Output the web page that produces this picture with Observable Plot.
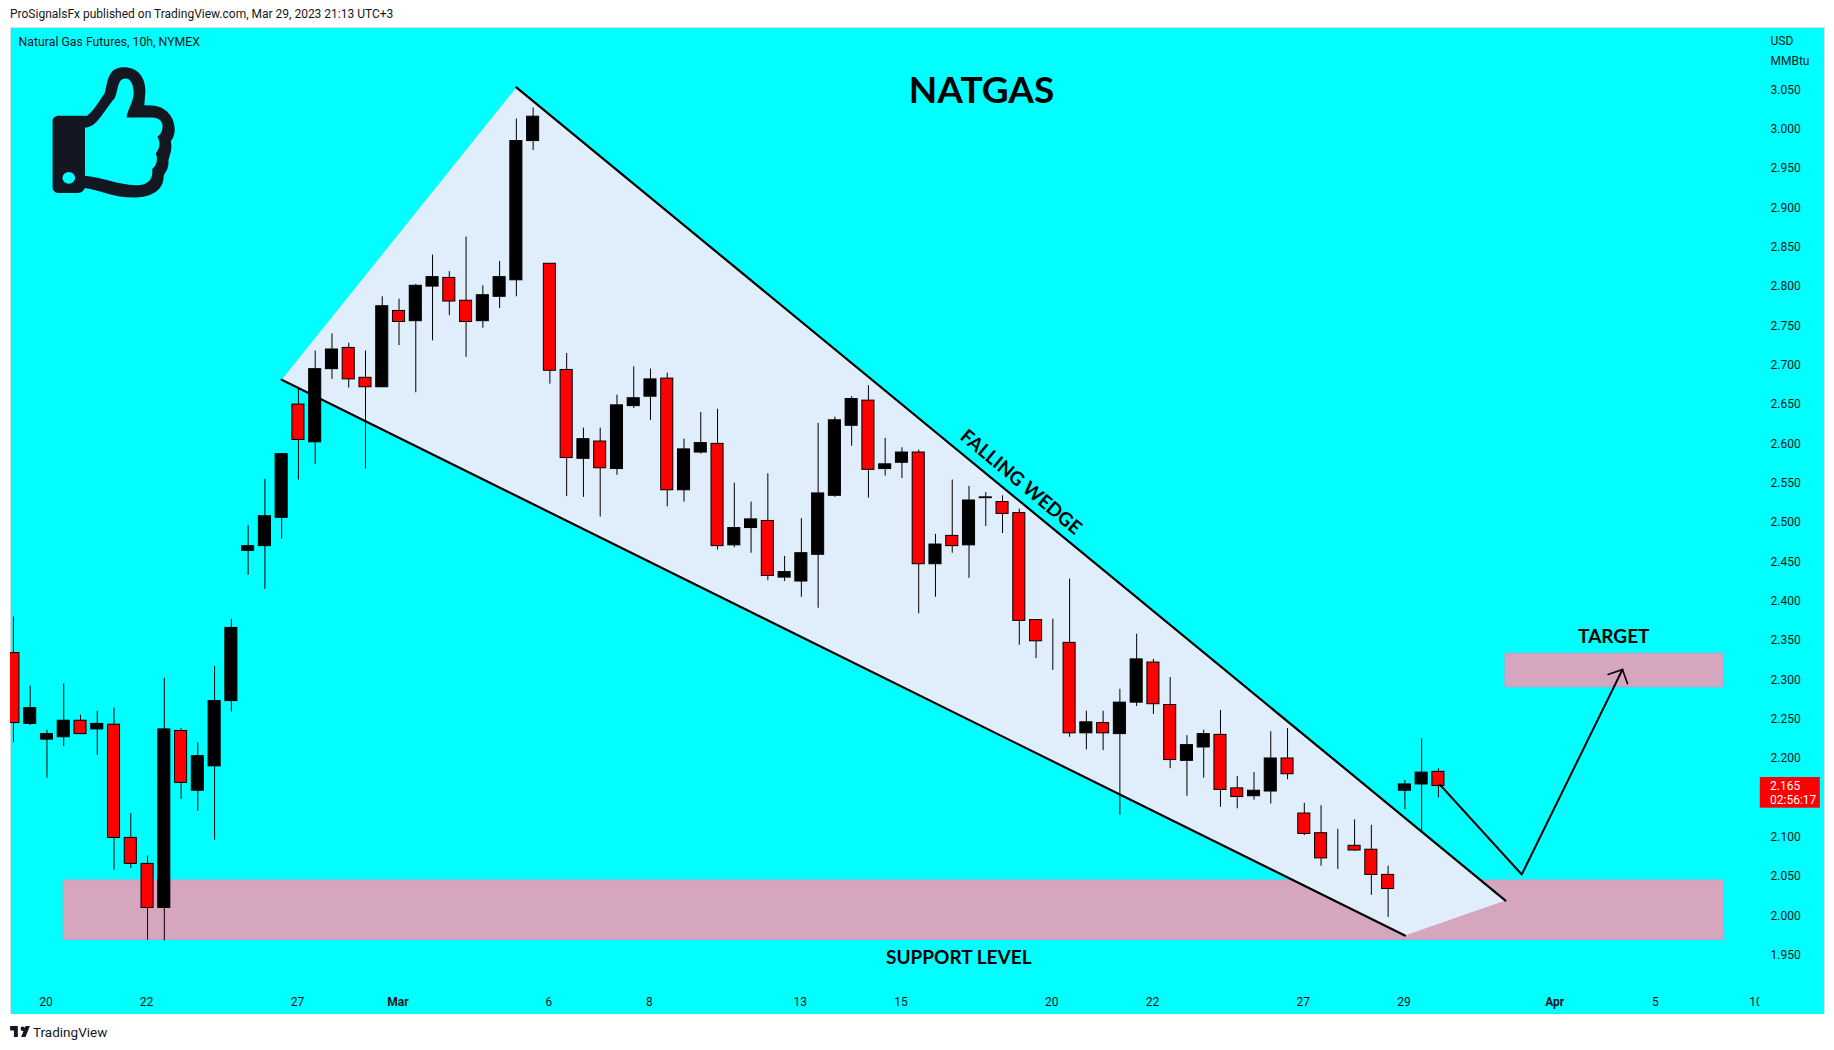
<!DOCTYPE html>
<html>
<head>
<meta charset="utf-8">
<script src="https://cdn.jsdelivr.net/npm/d3@7"></script>
<script src="https://cdn.jsdelivr.net/npm/@observablehq/plot@0.6"></script>
<style>
html,body{margin:0;padding:0;background:#fff;overflow:hidden}
#head{height:27px;padding-left:10px;font:12px/29px Roboto,sans-serif;color:#131722;white-space:nowrap}
#foot{height:36px;position:relative;font:13px Roboto,sans-serif;color:#131722}
#foot svg{position:absolute;left:10px;top:12px}
#foot span{position:absolute;left:33px;top:10px;font-size:13.5px}
#chart svg{display:block}
</style>
</head>
<body>
<div id="head">ProSignalsFx published on TradingView.com, Mar 29, 2023 21:13 UTC+3</div>
<div id="chart"></div>
<div id="foot"><svg width="20" height="11" viewBox="0 0 36 20"><path fill="#131722" d="M14 20H7V8H0V0h14zM28 20h-8L28 0h8zM19 5a4 4 0 1 1 0 .1z"/></svg><span>TradingView</span></div>
<script>
const opens = [2.334,2.244,2.224,2.227,2.248,2.237,2.243,2.099,2.066,2.010,2.235,2.159,2.190,2.273,
2.464,2.470,2.506,2.650,2.602,2.695,2.722,2.684,2.672,2.769,2.756,2.800,2.811,2.782,2.756,2.787,2.808,2.985,2.829,2.694,2.581,2.603,2.568,2.648,2.660,2.683,2.541,2.589,2.600,2.471,2.493,2.502,2.430,2.425,2.459,2.534,2.623,2.655,2.568,2.576,2.589,2.447,2.483,2.471,2.531,2.526,2.512,2.376,2.347,2.347,2.232,2.245,2.231,2.271,2.322,2.268,2.197,2.214,2.230,2.162,2.152,2.158,2.200,2.130,2.105,2.076,2.089,2.084,2.052,2.159,2.167,2.183];
const closes = [2.245,2.264,2.231,2.248,2.231,2.244,2.099,2.066,2.010,2.237,2.169,2.203,2.273,2.366,
2.470,2.508,2.587,2.605,2.695,2.720,2.682,2.672,2.775,2.755,2.801,2.812,2.781,2.755,2.789,2.812,2.985,3.016,2.693,2.582,2.606,2.569,2.649,2.658,2.682,2.541,2.593,2.601,2.470,2.493,2.504,2.432,2.437,2.461,2.537,2.630,2.657,2.567,2.574,2.589,2.447,2.472,2.470,2.528,2.532,2.511,2.375,2.349,2.347,2.232,2.246,2.232,2.271,2.326,2.269,2.198,2.217,2.231,2.160,2.151,2.159,2.200,2.180,2.104,2.073,2.076,2.083,2.052,2.034,2.167,2.182,2.165];
const highs = [2.380,2.292,2.236,2.295,2.255,2.260,2.264,2.130,2.076,2.302,2.238,2.220,2.317,2.377,
2.496,2.555,2.587,2.671,2.718,2.740,2.728,2.718,2.787,2.784,2.803,2.840,2.819,2.863,2.801,2.832,3.013,3.027,2.829,2.715,2.620,2.620,2.662,2.698,2.695,2.690,2.606,2.640,2.644,2.550,2.526,2.562,2.457,2.505,2.626,2.634,2.660,2.674,2.607,2.595,2.592,2.485,2.554,2.546,2.538,2.534,2.517,2.376,2.377,2.428,2.260,2.260,2.288,2.358,2.326,2.303,2.229,2.236,2.261,2.177,2.182,2.234,2.238,2.143,2.140,2.110,2.122,2.115,2.063,2.172,2.225,2.187];
const lows = [2.220,2.242,2.175,2.215,2.231,2.204,2.058,2.060,1.969,1.968,2.148,2.133,2.096,2.259,
2.433,2.415,2.479,2.554,2.574,2.682,2.671,2.568,2.672,2.725,2.665,2.731,2.763,2.710,2.747,2.772,2.787,2.973,2.676,2.533,2.532,2.507,2.560,2.645,2.630,2.520,2.526,2.587,2.465,2.468,2.461,2.426,2.425,2.405,2.391,2.532,2.597,2.531,2.559,2.556,2.384,2.405,2.461,2.429,2.495,2.486,2.344,2.327,2.312,2.227,2.211,2.210,2.128,2.266,2.256,2.187,2.152,2.175,2.138,2.136,2.147,2.142,2.173,2.102,2.063,2.059,2.082,2.026,1.998,2.135,2.105,2.150];

const yTicks = [3.05,3.0,2.95,2.9,2.85,2.8,2.75,2.7,2.65,2.6,2.55,2.5,2.45,2.4,2.35,2.3,2.25,2.2,2.1,2.05,2.0,1.95];
const dayTickIdx = [2,8,17,32,38,47,53,62,68,77,83,98,104];
const dayTickLbl = ["20","22","27","6","8","13","15","20","22","27","29","5","10"];
const monthTickIdx = [23,92];
const monthTickLbl = ["Mar","Apr"];

const wedgeX = [16,30,89,83];
const wedgeY = [2.6815,3.0532,2.0194,1.9749];
const supportZone = {x1:3,x2:102,y1:1.9695,y2:2.0449};
const targetZone = {x1:89,x2:102,y1:2.2907,y2:2.3331};
const pathX = [85.08,89.97,95.98];
const pathY = [2.1669,2.0525,2.3132];
const headX = [95.12,95.98,96.28];
const headY = [2.3068,2.3132,2.2950];
const notes = [
  {t:"NATGAS",x:57.75,y:3.0487,size:37,rot:0},
  {t:"SUPPORT LEVEL",x:56.39,y:1.947,size:19,rot:0},
  {t:"TARGET",x:95.46,y:2.354,size:19,rot:0},
  {t:"FALLING WEDGE",x:60.09,y:2.5513,size:19,rot:40}
];

const candles = opens.map((o,i)=>({i,o,c:closes[i],h:highs[i],l:lows[i]}));
const wedge = wedgeX.map((x,k)=>({x,y:wedgeY[k]}));
const path = pathX.map((x,k)=>({x,y:pathY[k]}));
const head = headX.map((x,k)=>({x,y:headY[k]}));
const CY="#00ffff", PINK="#d5a6bd", PINKB="#dd92c2", FILL="#dfeefa", INK="#000";
const FONT="Lato, 'Open Sans', sans-serif";

function thumb(){
  const g=d3.create("svg:path");
  g.attr("transform","translate(0,-27) scale(0.3953,0.3448)")
   .attr("fill","#131722").attr("fill-rule","evenodd")
   .attr("d","M150 336L220 336C235 325 250 295 265 270C272 245 270 195 312 195C350 195 368 225 368 265L365 305L385 306C420 308 442 340 442 375C442 395 435 405 432 410C437 430 430 450 426 465C428 490 418 500 414 510C415 550 385 573 340 573C285 573 250 550 215 545C210 555 205 560 195 560L150 560C140 560 133 552 133 545L133 350C133 342 140 336 150 336Z"+
   "M215 370C245 370 260 325 290 285C300 265 295 228 318 228C332 228 338 250 338 270C338 295 322 320 320 341L385 341C405 342 413 355 411 370C410 385 405 390 398 397C408 415 403 430 394 445C400 460 397 480 385 490C388 520 375 537 345 537C295 537 265 515 215 510Z"+
   "M158 516a16 17 0 1 0 32 0a16 17 0 1 0 -32 0Z");
  return g.node();
}

const fig = Plot.plot({
  width:1834,height:987,
  marginLeft:10,marginRight:10,marginTop:0,marginBottom:0,
  x:{domain:[-0.175,108.03]},
  y:{domain:[1.8745,3.1294]},
  style:{background:"#fff",fontFamily:"Roboto, sans-serif",fontSize:"12px",color:"#131722"},
  marks:[
    Plot.frame({fill:CY,stroke:"#d3dfe6"}),
    Plot.rect([supportZone,targetZone],{x1:"x1",x2:"x2",y1:"y1",y2:"y2",fill:PINK,stroke:PINKB,strokeWidth:1}),
    Plot.line(wedge,{x:"x",y:"y",fill:FILL,stroke:"none",curve:"linear-closed"}),
    Plot.line([wedge[1],wedge[2]],{x:"x",y:"y",stroke:INK,strokeWidth:2.2}),
    Plot.line([wedge[0],wedge[3]],{x:"x",y:"y",stroke:INK,strokeWidth:2.2}),
    Plot.ruleX(candles,{x:"i",y1:"l",y2:"h",stroke:INK,strokeWidth:1,clip:"frame"}),
    Plot.rect(candles,{x1:d=>d.i-0.36,x2:d=>d.i+0.36,y1:"o",y2:"c",fill:d=>d.c<d.o?"#ff0000":"#000000",stroke:INK,strokeWidth:1,clip:"frame"}),
    Plot.line(path,{x:"x",y:"y",stroke:INK,strokeWidth:2}),
    Plot.line(head,{x:"x",y:"y",stroke:INK,strokeWidth:1.6}),
    ...notes.map(n=>Plot.text([n],{x:"x",y:"y",text:"t",fontSize:n.size,fontWeight:"bold",rotate:n.rot,fill:INK,fontFamily:FONT})),
    Plot.axisX(dayTickIdx,{anchor:"bottom",tickSize:0,tickPadding:0,dx:-1,dy:-17,label:null,tickFormat:d=>dayTickLbl[dayTickIdx.indexOf(d)]}),
    Plot.axisX(monthTickIdx,{anchor:"bottom",tickSize:0,tickPadding:0,dx:-1,dy:-17,label:null,fontWeight:"bold",tickFormat:d=>monthTickLbl[monthTickIdx.indexOf(d)]}),
    Plot.rect([{x1:104.17,x2:108.03,y1:1.8745,y2:1.92}],{x1:"x1",x2:"x2",y1:"y1",y2:"y2",fill:CY}),
    Plot.axisY(yTicks,{anchor:"right",tickSize:0,tickPadding:0,dx:-54,label:null,tickFormat:d3.format(".3f")}),
    Plot.rect([{x1:104.2,x2:107.78,y1:2.1368,y2:2.1758}],{x1:"x1",x2:"x2",y1:"y1",y2:"y2",fill:"#ff0000"}),
    Plot.text(["2.165"],{x:104.78,y:2.1648,text:d=>d,textAnchor:"start",fill:"#fff"}),
    Plot.text(["02:56:17"],{x:104.78,y:2.1466,text:d=>d,textAnchor:"start",fill:"#fff"}),
    Plot.text(["USD"],{frameAnchor:"top-right",dx:-54,dy:14,text:d=>d,textAnchor:"start",lineAnchor:"middle"}),
    Plot.text(["MMBtu"],{frameAnchor:"top-right",dx:-54,dy:34,text:d=>d,textAnchor:"start",lineAnchor:"middle"}),
    Plot.text(["Natural Gas Futures, 10h, NYMEX"],{frameAnchor:"top-left",dx:8,dy:15,text:d=>d,textAnchor:"start",lineAnchor:"middle",fontSize:12.3}),
    thumb
  ]
});
document.getElementById("chart").appendChild(fig);
</script>
</body>
</html>
